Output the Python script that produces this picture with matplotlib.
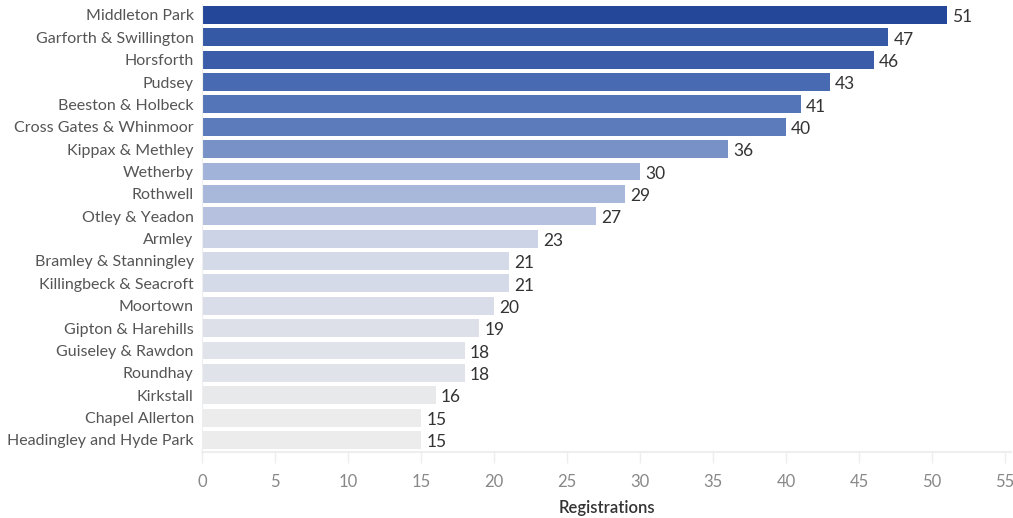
import numpy as np
import matplotlib
matplotlib.use('Agg')
import matplotlib.pyplot as plt
from matplotlib.colors import LinearSegmentedColormap, Normalize

# Data
wards = ['Middleton Park', 'Garforth & Swillington', 'Horsforth', 'Pudsey',
         'Beeston & Holbeck', 'Cross Gates & Whinmoor', 'Kippax & Methley',
         'Wetherby', 'Rothwell', 'Otley & Yeadon', 'Armley',
         'Bramley & Stanningley', 'Killingbeck & Seacroft', 'Moortown',
         'Gipton & Harehills', 'Guiseley & Rawdon', 'Roundhay', 'Kirkstall',
         'Chapel Allerton', 'Headingley and Hyde Park']
registrations = [51, 47, 46, 43, 41, 40, 36, 30, 29, 27, 23, 21, 21, 20,
                 19, 18, 18, 16, 15, 15]
x_ticks = list(range(0, 60, 5))

plt.rcParams['font.family'] = ['Lato', 'DejaVu Sans']

fig = plt.figure(figsize=(10.13, 5.18), dpi=100)
ax = fig.add_axes([202 / 1013, 1 - 452 / 518, (1011 - 202) / 1013, (452 - 4) / 518])

cmap = LinearSegmentedColormap.from_list(
    'tab_blue', ['#ececec', '#c9d0e6', '#8ea4d2', '#4d6fb5', '#24479a'])
norm = Normalize(vmin=min(registrations), vmax=max(registrations))

y = np.arange(len(wards))
ax.barh(y, registrations, height=0.8, color=cmap(norm(np.array(registrations))))

for yi, v in zip(y, registrations):
    ax.text(v + 0.35, yi + 0.1, str(v), va='center', ha='left',
            fontsize=12.5, color='#333333')

ax.set_yticks(y)
ax.set_yticklabels(wards, fontsize=11.5, color='#555555')
ax.set_ylim(19.54, -0.49)
ax.set_xlim(0, 55.4)
ax.set_xticks(x_ticks)
ax.set_xticklabels([str(t) for t in x_ticks], fontsize=12, color='#888888')
ax.set_xlabel('Registrations', fontsize=12, color='#333333', labelpad=7,
              fontweight='semibold')

for side in ['top', 'right']:
    ax.spines[side].set_visible(False)
ax.spines['bottom'].set_color('#eeeeee')
ax.spines['left'].set_color('#eeeeee')
ax.spines['bottom'].set_linewidth(1.5)
ax.tick_params(axis='y', length=0, pad=6)
ax.tick_params(axis='x', length=8, color='#eeeeee', width=1, pad=8)

plt.savefig('out.png', dpi=100)
